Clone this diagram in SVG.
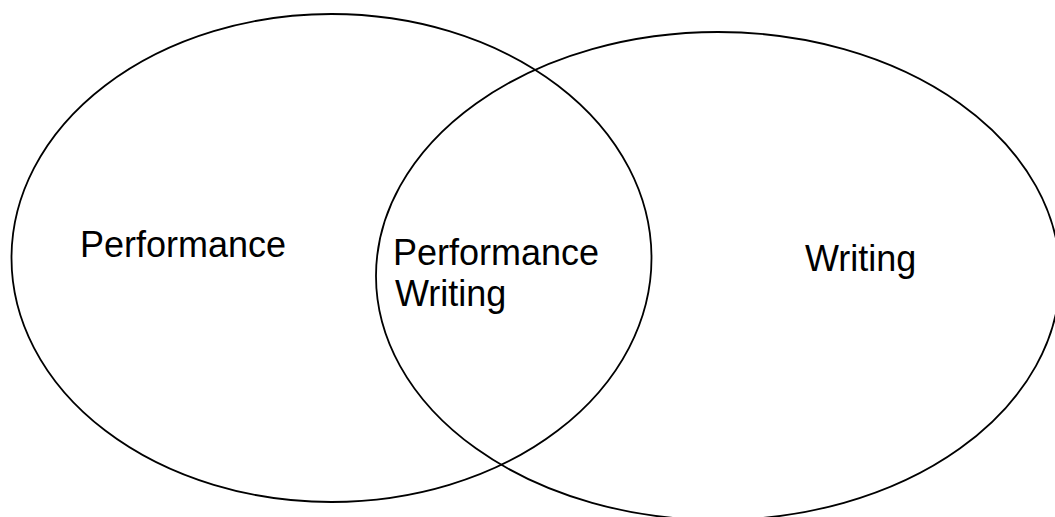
<svg xmlns="http://www.w3.org/2000/svg" width="1055" height="517" viewBox="0 0 1055 517">
<style>
.set{fill:none;stroke:#000;stroke-width:1.8}
.lbl{font-family:"Liberation Sans",Arial,sans-serif;font-size:36px;fill:#000}
</style>
<rect width="1055" height="517" fill="#fff"/>
<g id="performance">
<ellipse class="set" cx="331.5" cy="258" rx="320" ry="244"/>
<text class="lbl" x="80" y="257">Performance</text>
</g>
<g id="writing">
<ellipse class="set" cx="718" cy="276" rx="342" ry="244"/>
<text class="lbl" x="805" y="271">Writing</text>
</g>
<g id="overlap">
<text class="lbl" x="393" y="265">Performance</text>
<text class="lbl" x="395" y="306">Writing</text>
</g>
<g id="connectors"/>
</svg>
